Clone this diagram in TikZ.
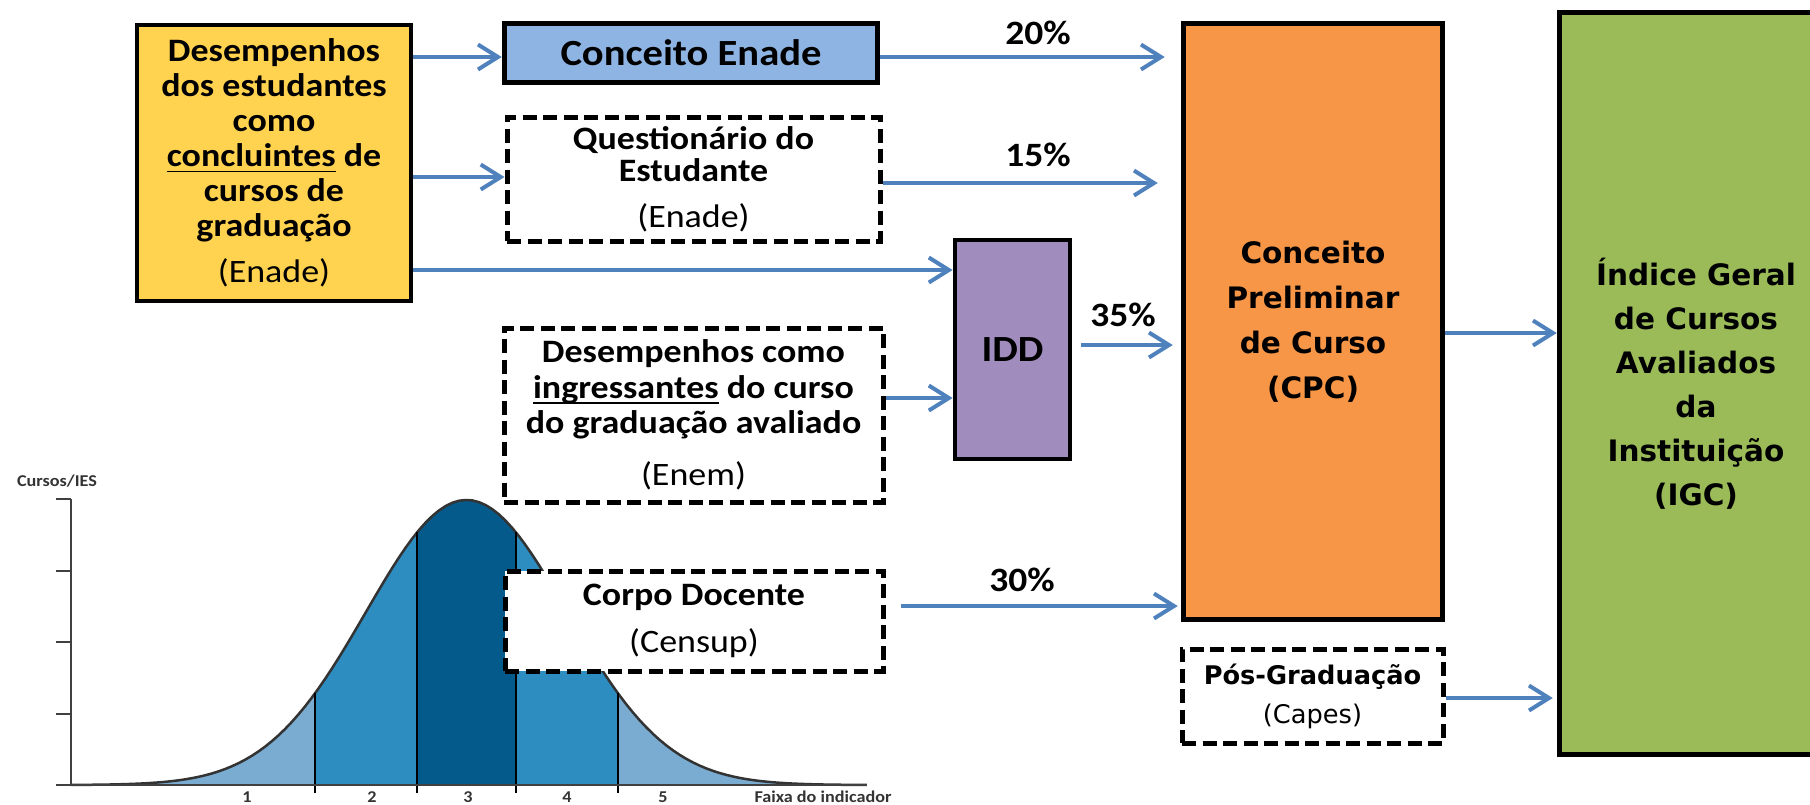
\documentclass[tikz,border=0pt]{standalone}
\usepackage{fontspec}
\setmainfont{Carlito}[FakeStretch=1.1]
\newfontfamily\verd{DejaVu Sans}
\usepackage{tikz}
\usetikzlibrary{arrows.meta}
\definecolor{flowblue}{RGB}{79,129,189}
\definecolor{boxyellow}{RGB}{255,211,79}
\definecolor{boxblue}{RGB}{142,180,227}
\definecolor{boxpurple}{RGB}{161,140,190}
\definecolor{boxorange}{RGB}{247,150,70}
\definecolor{boxgreen}{RGB}{155,187,89}
\definecolor{bandlight}{RGB}{122,172,210}
\definecolor{bandmid}{RGB}{45,140,192}
\definecolor{banddark}{RGB}{5,90,140}
\newcommand\uln[1]{\underline{\smash{#1}}}
\tikzset{
	solidbox/.style={draw=black,line width=0.48mm,align=center,inner sep=0pt},
	dashbox/.style={solidbox,fill=white,line width=0.5mm,dash pattern=on 1.4mm off 0.65mm},
	txt/.style={font=\fontsize{9.3}{#1}\selectfont\bfseries},
	wide/.style 2 args={font=\verd\fontsize{#1}{#2}\selectfont\bfseries},
	flow/.style={->,line width=0.4mm,draw=flowblue},
	pct/.style={font=\fontsize{9.7}{10}\selectfont\bfseries,inner sep=0pt},
	lbl/.style={font=\fontsize{4.7}{5}\selectfont\bfseries,inner sep=0pt,text=black!80},
	axis/.style={draw=black!75,line width=0.2mm},
	curve/.style={draw=black!80,line width=0.25mm},
	divider/.style={draw=black,line width=0.2mm},
	>={Straight Barb[length=2mm,width=2.5mm]},
	declare function={bell(\x)=-7.85+2.85*exp(-((\x-4.665)^2)/2.024);},
	}
\begin{document}
\begin{tikzpicture}
\useasboundingbox (0,0) rectangle (18.1,-8.04);
\clip (0,0) rectangle (18.1,-8.04);

% faixas
\foreach \a/\b/\col in {0.71/3.15/bandlight,3.15/4.17/bandmid,4.17/5.16/banddark,5.16/6.18/bandmid,6.18/8.67/bandlight}
  \fill[\col] (\a,-7.85) -- plot[domain=\a:\b,samples=40] (\x,{bell(\x)}) -- (\b,-7.85) -- cycle;
\draw[curve] plot[domain=0.71:8.67,samples=120] (\x,{bell(\x)});
\foreach \d in {3.15,4.17,5.16,6.18}
  \draw[divider] (\d,-7.93) -- (\d,{bell(\d)});
\draw[axis] (0.71,-4.99) -- (0.71,-7.85);
\draw[axis] (0.56,-7.85) -- (8.67,-7.85);
\foreach \t in {4.99,5.71,6.42,7.14}
  \draw[axis] (0.56,-\t) -- (0.71,-\t);
\node[lbl] (yaxis) at (0.57,-4.81) {Cursos/IES};
\node[lbl] (xaxis) at (8.23,-7.97) {Faixa do indicador};
\foreach \n/\x in {1/2.47,2/3.72,3/4.68,4/5.67,5/6.63}
  \node[lbl] (f\n) at (\x,-7.97) {\n};

% caixas
\node[solidbox,fill=boxyellow,minimum width=2.74cm,minimum height=2.76cm,txt=9.96] (yel) at (2.74,-1.63)
  {Desempenhos\\dos estudantes\\como\\\uln{concluintes} de\\cursos de\\graduação\\[3.1pt]\mdseries(Enade)};
\node[solidbox,fill=boxblue,line width=0.55mm,minimum width=3.73cm,minimum height=0.59cm,font=\fontsize{10.5}{11}\selectfont\bfseries] (enade) at (6.91,-0.53) {Conceito Enade};
\node[dashbox,minimum width=3.73cm,minimum height=1.24cm,txt=9.1] (quest) at (6.935,-1.79)
  {Questionário do\\Estudante\\[4pt]\mdseries(Enade)};
\node[solidbox,fill=boxpurple,minimum width=1.15cm,minimum height=2.19cm,font=\fontsize{10.5}{11}\selectfont\bfseries] (idd) at (10.125,-3.495) {IDD};
\node[dashbox,minimum width=3.79cm,minimum height=1.74cm,txt=10.1] (ingr) at (6.935,-4.15)
  {Desempenhos como\\\uln{ingressantes} do curso\\do graduação avaliado\\[4.7pt]\mdseries(Enem)};
\node[dashbox,minimum width=3.78cm,minimum height=1.00cm,txt=10] (corpo) at (6.94,-6.21)
  {Corpo Docente\\[3.4pt]\mdseries(Censup)};
\node[solidbox,fill=boxorange,line width=0.55mm,minimum width=2.59cm,minimum height=5.96cm,wide={8.4}{12.8}] (cpc) at (13.13,-3.215)
  {Conceito\\Preliminar\\de Curso\\(CPC)};
\node[dashbox,minimum width=2.61cm,minimum height=0.94cm,wide={7.3}{11.1}] (pos) at (13.125,-6.96)
  {Pós-Graduação\\\mdseries(Capes)};
\node[solidbox,fill=boxgreen,line width=0.55mm,minimum width=2.73cm,minimum height=7.42cm,wide={8.4}{12.5}] (igc) at (16.96,-3.835)
  {Índice Geral\\de Cursos\\Avaliados\\da\\Instituição\\(IGC)};

% setas
\draw[flow] (yel.east |- 0,-0.57) -- (enade.west |- 0,-0.57);
\draw[flow] (yel.east |- 0,-1.77) -- (quest.west |- 0,-1.77);
\draw[flow] (yel.east |- 0,-2.70) -- (idd.west |- 0,-2.70);
\draw[flow,shorten >=1.6mm] (enade.east |- 0,-0.57) -- (cpc.west |- 0,-0.57);
\draw[flow,shorten >=2.3mm] (quest.east |- 0,-1.83) -- (cpc.west |- 0,-1.83);
\draw[flow] (ingr.east |- 0,-3.98) -- (idd.west |- 0,-3.98);
\draw[flow,shorten <=0.9mm,shorten >=0.8mm] (idd.east |- 0,-3.45) -- (cpc.west |- 0,-3.45);
\draw[flow,shorten <=1.5mm,shorten >=0.3mm] (corpo.east |- 0,-6.06) -- (cpc.west |- 0,-6.06);
\draw[flow] (cpc.east |- 0,-3.33) -- (igc.west |- 0,-3.33);
\draw[flow,shorten >=0.4mm] (pos.east |- 0,-6.98) -- (igc.west |- 0,-6.98);

\node[pct] (p20) at (10.38,-0.33) {20\%};
\node[pct] (p15) at (10.38,-1.55) {15\%};
\node[pct] (p35) at (11.23,-3.15) {35\%};
\node[pct] (p30) at (10.22,-5.80) {30\%};
\end{tikzpicture}
\end{document}
